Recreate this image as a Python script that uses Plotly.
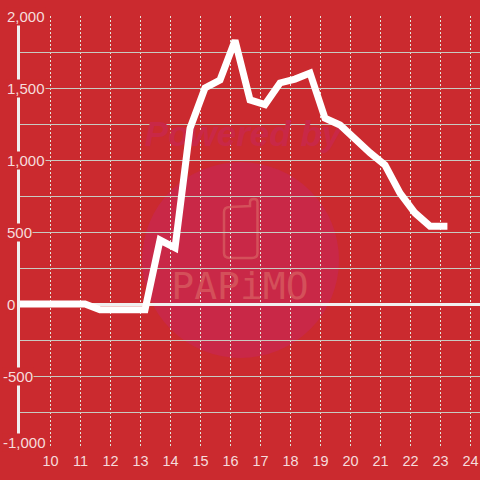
import plotly.graph_objects as go

hours = [8.65 + 0.5 * i for i in range(29)] + [23.23]
values = [0, 0, 0, 0, 0, 0, -40, -40, -40, -40, 444, 390, 1220, 1500, 1555, 1830, 1417, 1385,
          1535, 1562, 1604, 1290, 1243, 1139, 1050, 965, 770, 632, 540, 540]
y_ticks = [2000, 1750, 1500, 1250, 1000, 750, 500, 250, 0, -250, -500, -750, -1000]
y_labels = {2000: "2,000", 1500: "1,500", 1000: "1,000", 500: "500", 0: "0", -500: "-500", -1000: "-1,000"}
x_ticks = list(range(10, 25))
RED = "#cb2a2f"
LABEL = "#f6dcdc"
WM = "#c92847"
WM2 = "#d4505a"

L, T, R, B = 20, 16, 480, 448
px = lambda v: (v - L) / (R - L)
py = lambda v: (B - v) / (B - T)
dx = lambda v: 10 + (v - 50.5) / 30
dy = lambda v: (304 - v) / 0.144

fig = go.Figure()
fig.add_trace(go.Scatter(x=[dx(243)], y=[dy(137)], mode="text", text=["Powered by"],
                         textfont=dict(family="Liberation Sans", size=35, color=WM, weight="bold", style="italic"),
                         hoverinfo="skip", cliponaxis=False))
fig.add_trace(go.Scatter(x=[dx(240)], y=[dy(289)], mode="text", text=["PAPiMO"],
                         textfont=dict(family="DejaVu Sans Mono", size=38, color=WM2),
                         hoverinfo="skip", cliponaxis=False))
fig.add_trace(go.Scatter(x=hours, y=values, mode="lines", line=dict(color="#ffffff", width=7),
                         hoverinfo="skip", cliponaxis=False))

phone = "M {} {} L {} {} L {} {} Q {} {} {} {} Q {} {} {} {} L {} {} Q {} {} {} {} L {} {} Q {} {} {} {} L {} {} Q {} {} {} {} Z".format(
    px(230), py(207), px(250), py(206), px(250), py(202), px(250), py(199), px(254), py(199),
    px(257.5), py(199), px(257.5), py(202), px(257.5), py(253), px(257.5), py(258), px(252), py(258),
    px(230), py(258), px(224), py(258), px(224), py(253), px(224), py(212), px(224), py(207), px(230), py(207))

annotations = []
for value, text in y_labels.items():
    annotations.append(dict(
        text=text, xref="paper", yref="y", x=px(1.5 if value < 0 else 6), y=value,
        xanchor="left", yanchor="middle", showarrow=False, bgcolor=RED, borderpad=0,
        yshift=6 if value == -1000 else 0, align="left",
        font=dict(family="Liberation Sans", size=15, color=LABEL)))

fig.update_layout(
    width=480, height=480, margin=dict(l=L, r=480 - R, t=T, b=480 - B),
    paper_bgcolor=RED, plot_bgcolor=RED, showlegend=False,
    font=dict(family="Liberation Sans", color=LABEL, size=14),
    shapes=[
        dict(type="circle", xref="paper", yref="paper", x0=px(142), x1=px(339), y0=py(358), y1=py(162),
             fillcolor=WM, line_width=0, layer="below"),
        dict(type="path", xref="paper", yref="paper", path=phone, line=dict(color=WM2, width=2.5), layer="below"),
    ],
    annotations=annotations,
)
fig.update_xaxes(range=[8.983, 24.316], tickvals=x_ticks, showgrid=True, gridcolor="#e4e6dc",
                 griddash="2px,2px", gridwidth=1, zeroline=False, showline=False, ticks="outside",
                 ticklen=0, tickcolor="rgba(0,0,0,0)", tickfont=dict(size=14.5, color=LABEL))
fig.update_yaxes(range=[-1000, 2000], tickvals=y_ticks, showticklabels=False, showgrid=True,
                 gridcolor="#c8cbc2", gridwidth=1, zeroline=True, zerolinecolor="#f0f0f0",
                 zerolinewidth=3, showline=True, linecolor="#f0f0f0", linewidth=3, ticks="")
fig.write_html("out.html", config={"displayModeBar": False},
               post_script="document.documentElement.style.overflow='hidden';document.body.style.margin='0';document.body.style.overflow='hidden';")
